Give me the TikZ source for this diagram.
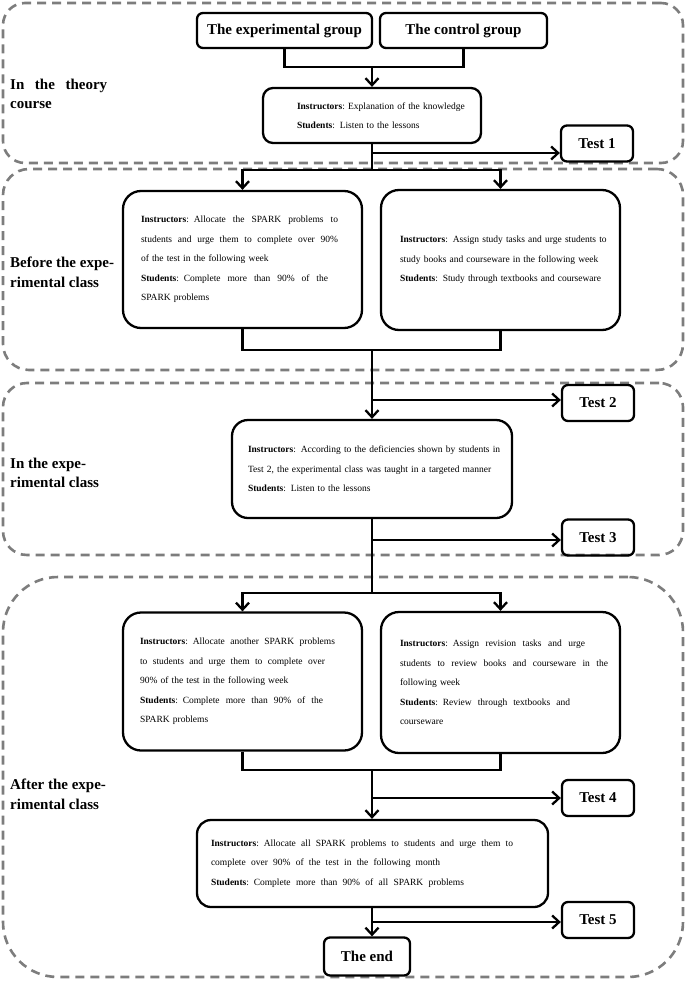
\documentclass[tikz,border=0pt]{standalone}
\usepackage{fontspec}
\setmainfont{Liberation Serif}
\usetikzlibrary{arrows.meta}
\definecolor{dashgray}{RGB}{125,125,125}
\newcommand{\jl}[2]{{\spaceskip=0.25em plus 1em\relax\makebox[#1pt][s]{#2}}}
\newcommand{\nl}[1]{\mbox{#1}}
\begin{document}
\begin{tikzpicture}[x=1pt,y=-1pt,
  region/.style={draw=dashgray, line width=2.6pt, dash pattern=on 9pt off 6pt, inner sep=0pt},
  box/.style={draw, line width=2.3pt, inner sep=0pt, align=left, font=\fontsize{9.5}{19.5}\selectfont},
  grp/.style={draw, line width=2.3pt, rounded corners=6pt, inner sep=0pt, font=\fontsize{15}{18}\selectfont\bfseries},
  testbox/.style={grp, minimum width=72pt, minimum height=36pt},
  lbl/.style={anchor=west, align=left, inner sep=0pt, font=\fontsize{15}{19.5}\selectfont\bfseries},
  conn/.style={line width=2.3pt},
  arr/.style={line width=2.3pt, -{Straight Barb[length=7pt,width=13pt]}}]
\useasboundingbox (0,0) rectangle (685,983);

% regions
\node[region, rounded corners=22pt, minimum width=680pt, minimum height=160pt] (r1) at (343,83) {};
\node[region, rounded corners=26pt, minimum width=680pt, minimum height=201pt] (r2) at (343,269.5) {};
\node[region, rounded corners=24pt, minimum width=680pt, minimum height=172pt] (r3) at (343,469) {};
\node[region, rounded corners=55pt, minimum width=680pt, minimum height=400pt] (r4) at (343,777) {};

% labels
\node[lbl] (l1) at (10,94) {\jl{97}{In the theory}\\course};
\node[lbl] (l2) at (10,272.5) {Before the expe-\\rimental class};
\node[lbl] (l3) at (10,473) {In the expe-\\rimental class};
\node[lbl] (l4) at (10,794.5) {After the expe-\\rimental class};

% group boxes
\node[grp, minimum width=175pt, minimum height=35pt] (eg) at (284.5,30.5) {The experimental group};
\node[grp, minimum width=167pt, minimum height=35pt] (cg) at (463.5,30.5) {The control group};

% theory box
\node[box, rounded corners=10pt, minimum width=218pt, minimum height=55pt, text width=150pt] (b1) at (372,115.5)
 {\nl{\textbf{Instructors}:\ Explanation of the knowledge}\\\nl{\textbf{Students}: Listen to the lessons}};
\node[testbox] (t1) at (597,143.5) {Test 1};

% before
\node[box, rounded corners=18pt, minimum width=239pt, minimum height=137pt, text width=203pt] (bl1) at (242.5,259.5)
 {\jl{197}{\textbf{Instructors}: Allocate the SPARK problems to}\\
  \jl{197}{students and urge them to complete over 90\%}\\
  \nl{of the test in the following week}\\
  \jl{187}{\textbf{Students}: Complete more than 90\% of the}\\
  \nl{SPARK problems}};
\node[box, rounded corners=18pt, minimum width=239pt, minimum height=140pt, text width=201pt] (br1) at (500.5,260)
 {\nl{\textbf{Instructors}: Assign study tasks and urge students to}\\
  \nl{study books and courseware in the following week}\\
  \nl{\textbf{Students}: Study through textbooks and courseware}};

% in class
\node[testbox] (t2) at (598,403) {Test 2};
\node[box, rounded corners=16pt, minimum width=280pt, minimum height=98pt, text width=248pt] (bm) at (372,469)
 {\nl{\textbf{Instructors}: According to the deficiencies shown by students in}\\
  \nl{Test 2, the experimental class was taught in a targeted manner}\\
  \nl{\textbf{Students}: Listen to the lessons}};
\node[testbox] (t3) at (598,537.5) {Test 3};

% after
\node[box, rounded corners=18pt, minimum width=239pt, minimum height=138pt, text width=205pt] (bl2) at (242.5,681.5)
 {\jl{195}{\textbf{Instructors}: Allocate another SPARK problems}\\
  \jl{185}{to students and urge them to complete over}\\
  \nl{90\% of the test in the following week}\\
  \jl{183}{\textbf{Students}: Complete more than 90\% of the}\\
  \nl{SPARK problems}};
\node[box, rounded corners=18pt, minimum width=239pt, minimum height=141pt, text width=201pt] (br2) at (500.5,682.5)
 {\jl{185}{\textbf{Instructors}: Assign revision tasks and urge}\\
  \jl{208}{students to review books and courseware in the}\\
  \nl{following week}\\
  \jl{170}{\textbf{Students}: Review through textbooks and}\\
  \nl{courseware}};
\node[testbox] (t4) at (598,798) {Test 4};
\node[box, rounded corners=14pt, minimum width=351pt, minimum height=87pt, text width=323pt] (bf) at (372.5,863.5)
 {\jl{302}{\textbf{Instructors}: Allocate all SPARK problems to students and urge them to}\\
  \jl{229}{complete over 90\% of the test in the following month}\\
  \jl{253}{\textbf{Students}: Complete more than 90\% of all SPARK problems}};
\node[testbox] (t5) at (598,920) {Test 5};
\node[grp, minimum width=86pt, minimum height=38pt] (fin) at (367,956.5) {The end};

% connectors
\coordinate (j1) at (372,67);
\draw[conn] (eg.south) |- (j1) -| (cg.south);
\draw[arr] (j1) -- (j1 |- b1.north);

\coordinate (s1) at (372,170);
\coordinate (a1) at (372,153);
\draw[conn] (b1.south) -- (s1);
\draw[arr] (a1) -- (a1 -| t1.west);
\draw[arr] (s1) -| (bl1.north);
\draw[arr] (s1) -| (br1.north);

\coordinate (j2) at (372,350);
\draw[conn] (bl1.south) |- (j2) -| (br1.south);
\draw[arr] (j2) -- (bm.north);
\coordinate (a2) at (372,400);
\draw[arr] (a2) -- (a2 -| t2.west);

\coordinate (s2) at (372,593);
\coordinate (a3) at (372,540);
\draw[conn] (bm.south) -- (s2);
\draw[arr] (a3) -- (a3 -| t3.west);
\draw[arr] (s2) -| (bl2.north);
\draw[arr] (s2) -| (br2.north);

\coordinate (j3) at (372,770);
\draw[conn] (bl2.south) |- (j3) -| (br2.south);
\draw[arr] (j3) -- (j3 |- bf.north);
\coordinate (a4) at (372,798);
\draw[arr] (a4) -- (a4 -| t4.west);

\coordinate (a5) at (372,922);
\draw[arr] (a5 |- bf.south) -- (a5 |- fin.north);
\draw[arr] (a5) -- (a5 -| t5.west);
\end{tikzpicture}
\end{document}
